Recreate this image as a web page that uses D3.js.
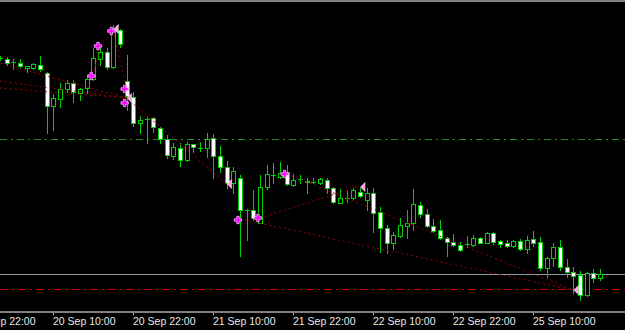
<!DOCTYPE html>
<html>
<head>
<meta charset="utf-8">
<script src="https://cdn.jsdelivr.net/npm/d3@7"></script>
<style>
  html, body { margin: 0; padding: 0; background: #000; }
  svg { display: block; }
</style>
</head>
<body>
<svg id="chart" width="625" height="330"></svg>
<script>
// EURUSD H1, first bar 20 Sep 2017 02:00 (server time), weekend hours skipped
const firstBar = Date.UTC(2017, 8, 20, 2)

const open = [1.1942,1.1941,1.1938,1.1937,1.1932,1.1932,1.1935,1.1927,1.1894,1.1901,
  1.1911,1.1917,1.1907,1.1912,1.1921,1.1941,1.1948,1.1933,1.1970,1.1919,
  1.1903,1.1877,1.1881,1.1882,1.1872,1.1861,1.1844,1.1852,1.1840,1.1856,
  1.1852,1.1852,1.1862,1.1844,1.1833,1.1817,1.1822,1.1790,1.1790,1.1777,
  1.1813,1.1825,1.1823,1.1828,1.1815,1.1821,1.1818,1.1818,1.1817,1.1820,
  1.1812,1.1797,1.1802,1.1802,1.1808,1.1800,1.1807,1.1788,1.1772,1.1757,
  1.1764,1.1774,1.1777,1.1795,1.1786,1.1774,1.1770,1.1762,1.1758,1.1755,
  1.1756,1.1755,1.1762,1.1757,1.1767,1.1759,1.1757,1.1754,1.1759,1.1751,
  1.1761,1.1758,1.1732,1.1742,1.1753,1.1733,1.1728,1.1725,1.1705,1.1727,1.1722]
const high = [1.1944,1.1943,1.1941,1.1941,1.1934,1.1937,1.1944,1.1928,1.1906,1.1917,
  1.1920,1.1920,1.1912,1.1923,1.1952,1.1955,1.1952,1.1975,1.1971,1.1945,
  1.1908,1.1884,1.1883,1.1883,1.1873,1.1865,1.1857,1.1857,1.1858,1.1856,
  1.1858,1.1867,1.1866,1.1854,1.1839,1.1833,1.1825,1.1791,1.1810,1.1825,
  1.1835,1.1837,1.1838,1.1835,1.1826,1.1825,1.1822,1.1822,1.1822,1.1822,
  1.1813,1.1811,1.1809,1.1812,1.1812,1.1812,1.1812,1.1793,1.1775,1.1768,
  1.1782,1.1790,1.1811,1.1798,1.1791,1.1781,1.1780,1.1763,1.1766,1.1758,
  1.1764,1.1765,1.1763,1.1768,1.1768,1.1760,1.1760,1.1760,1.1761,1.1764,
  1.1769,1.1763,1.1743,1.1757,1.1760,1.1741,1.1733,1.1729,1.1728,1.1731,1.1731]
const low = [1.1940,1.1935,1.1931,1.1933,1.1928,1.1931,1.1929,1.1867,1.1870,1.1893,
  1.1908,1.1898,1.1900,1.1907,1.1920,1.1935,1.1931,1.1932,1.1953,1.1890,
  1.1874,1.1867,1.1857,1.1868,1.1857,1.1842,1.1841,1.1834,1.1839,1.1848,
  1.1849,1.1843,1.1822,1.1828,1.1812,1.1807,1.1744,1.1760,1.1780,1.1777,
  1.1811,1.1817,1.1822,1.1815,1.1814,1.1817,1.1807,1.1817,1.1816,1.1807,
  1.1797,1.1797,1.1798,1.1801,1.1803,1.1790,1.1768,1.1748,1.1747,1.1751,
  1.1763,1.1762,1.1770,1.1783,1.1773,1.1768,1.1761,1.1744,1.1754,1.1749,
  1.1753,1.1754,1.1757,1.1757,1.1756,1.1753,1.1753,1.1753,1.1750,1.1747,
  1.1754,1.1730,1.1723,1.1734,1.1730,1.1723,1.1707,1.1700,1.1704,1.1718,1.1720]
const close = [1.1942,1.1937,1.1938,1.1934,1.1934,1.1936,1.1931,1.1894,1.1902,1.1911,
  1.1917,1.1908,1.1911,1.1921,1.1942,1.1948,1.1933,1.1969,1.1956,1.1904,
  1.1877,1.1880,1.1881,1.1873,1.1861,1.1845,1.1853,1.1840,1.1856,1.1853,
  1.1852,1.1861,1.1844,1.1833,1.1817,1.1829,1.1790,1.1790,1.1782,1.1813,
  1.1826,1.1825,1.1827,1.1816,1.1820,1.1821,1.1819,1.1818,1.1821,1.1812,
  1.1798,1.1802,1.1802,1.1810,1.1804,1.1807,1.1787,1.1772,1.1757,1.1765,
  1.1775,1.1777,1.1796,1.1786,1.1774,1.1769,1.1762,1.1758,1.1755,1.1750,
  1.1756,1.1762,1.1757,1.1767,1.1758,1.1756,1.1754,1.1759,1.1751,1.1760,
  1.1757,1.1732,1.1742,1.1753,1.1733,1.1728,1.1724,1.1705,1.1727,1.1722,1.1726]

const tickLabels = ["19 Sep 22:00","20 Sep 10:00","20 Sep 22:00","21 Sep 10:00",
  "21 Sep 22:00","22 Sep 10:00","22 Sep 22:00","25 Sep 10:00"]

// horizontal levels
const levelPrices = [1.1861, 1.1726, 1.1711]
const levelKinds = ["green", "gray", "red"]

// trade marks: bar index + price
const entryBars = [14, 15, 17, 19, 19, 36, 39, 43]
const entryPrices = [1.1924, 1.1954, 1.1969, 1.1911, 1.1897, 1.1780, 1.1782, 1.1826]
const exitBars = [17, 19, 34, 54, 86]
const exitPrices = [1.1971, 1.1902, 1.1816, 1.1813, 1.1710]

// dotted trade lines: [bar, price, bar, price]
const tradeLines = [
  [0, 1.1937, 19, 1.1902],
  [0, 1.1919, 19, 1.1902],
  [0, 1.1912, 19, 1.1902],
  [14, 1.1924, 15, 1.1954],
  [15, 1.1954, 17, 1.1969],
  [17, 1.1969, 19, 1.1911],
  [19, 1.1902, 34, 1.1816],
  [36, 1.1781, 86, 1.1710],
  [39, 1.1782, 54, 1.1814],
  [43, 1.1826, 86, 1.1710]
]

const W = 625, H = 330, axisY = 311
const svg = d3.select("#chart")

const parseTick = d3.utcParse("%d %b %H:%M %Y")
const fmt = d3.utcFormat("%-d %b %H:%M")
const isTrading = d => d.getUTCDay() !== 0 && d.getUTCDay() !== 6

//count trading hours from the first bar (negative before it)
function barIndex(t) {
  let n = 0, d = new Date(firstBar)
  const step = t >= d ? 1 : -1
  while (+d !== +t) {
    d = d3.utcHour.offset(d, step)
    if (isTrading(d)) n += step
  }
  return n
}

const x = d3.scaleLinear().domain([8, 80]).range([53.3, 533.3])
const y = d3.scaleLinear().domain([1.2000, 1.1688]).range([0, 312])
const px = v => Math.round(x(v)) + 0.5
const py = v => Math.round(y(v))

svg.append("rect").attr("width", W).attr("height", H).attr("fill", "#000")

// levels
const levelStyle = {
  green: {stroke: "#2b8a2b", dash: "7,4,2,4"},
  gray: {stroke: "#8d9aa8", dash: null},
  red: {stroke: "#d40000", dash: "8,4,2,4"}
}
svg.append("g").selectAll("line").data(levelPrices).join("line")
  .attr("x1", 0).attr("x2", W)
  .attr("y1", d => py(d) + 0.5).attr("y2", d => py(d) + 0.5)
  .attr("stroke", (d, i) => levelStyle[levelKinds[i]].stroke)
  .attr("stroke-dasharray", (d, i) => levelStyle[levelKinds[i]].dash)

// candles
const bars = d3.range(open.length)
const wickColor = "#00d000"
const g = svg.append("g")
g.selectAll("line.wick").data(bars).join("line").attr("class", "wick")
  .attr("x1", px).attr("x2", px)
  .attr("y1", i => py(high[i])).attr("y2", i => py(low[i]) + 1)
  .attr("stroke", wickColor)

g.selectAll("rect.body").data(bars.filter(i => py(open[i]) !== py(close[i]))).join("rect")
  .attr("class", "body")
  .attr("x", i => px(i) - 2)
  .attr("y", i => py(Math.max(open[i], close[i])) + 0.5)
  .attr("width", 4)
  .attr("height", i => Math.abs(py(open[i]) - py(close[i])))
  .attr("fill", i => close[i] < open[i] ? "#fff" : "#000")
  .attr("stroke", wickColor)

g.selectAll("line.doji").data(bars.filter(i => py(open[i]) === py(close[i]))).join("line")
  .attr("class", "doji")
  .attr("x1", i => px(i) - 2.5).attr("x2", i => px(i) + 2.5)
  .attr("y1", i => py(open[i]) + 0.5).attr("y2", i => py(open[i]) + 0.5)
  .attr("stroke", wickColor)

// trade lines
svg.append("g").selectAll("line").data(tradeLines).join("line")
  .attr("x1", d => x(d[0])).attr("y1", d => y(d[1]))
  .attr("x2", d => x(d[2])).attr("y2", d => y(d[3]))
  .attr("stroke", "#9a0000")
  .attr("stroke-dasharray", "2,3")

// entry marks
svg.append("g").selectAll("path").data(entryBars).join("path")
  .attr("d", d3.symbol(d3.symbolCross, 30))
  .attr("transform", (d, i) => `translate(${x(d) - 2},${y(entryPrices[i])})`)
  .attr("fill", "#ff00ff")
  .attr("stroke", "#ffa8ff")
  .attr("stroke-width", 0.8)

// exit arrows, pointing left
svg.append("g").selectAll("path").data(exitBars).join("path")
  .attr("d", "M0,0L4.5,-4.5L4.5,4.5Z")
  .attr("transform", (d, i) => `translate(${x(d) + 0.5},${y(exitPrices[i])})`)
  .attr("fill", "#f4a6e4")
  .attr("stroke", "#ffd8f4")
  .attr("stroke-width", 0.6)

// frame and time axis
svg.append("rect").attr("x", 0).attr("y", 0).attr("width", W).attr("height", 2).attr("fill", "#808080")
svg.append("rect").attr("x", 0).attr("y", axisY).attr("width", W).attr("height", 2).attr("fill", "#808080")

const tickTimes = tickLabels.map(s => parseTick(s + " 2017"))
const axis = svg.append("g")
axis.selectAll("line").data(tickTimes).join("line")
  .attr("x1", t => px(barIndex(t))).attr("x2", t => px(barIndex(t)))
  .attr("y1", axisY + 2).attr("y2", axisY + 4)
  .attr("stroke", "#b0b0b0")
axis.selectAll("text").data(tickTimes).join("text")
  .attr("x", t => Math.round(x(barIndex(t))))
  .attr("y", 325)
  .attr("fill", "#e8e8e8")
  .attr("font-family", "Liberation Sans, Arial, sans-serif")
  .attr("font-size", "10.5px")
  .text(fmt)
</script>
</body>
</html>
